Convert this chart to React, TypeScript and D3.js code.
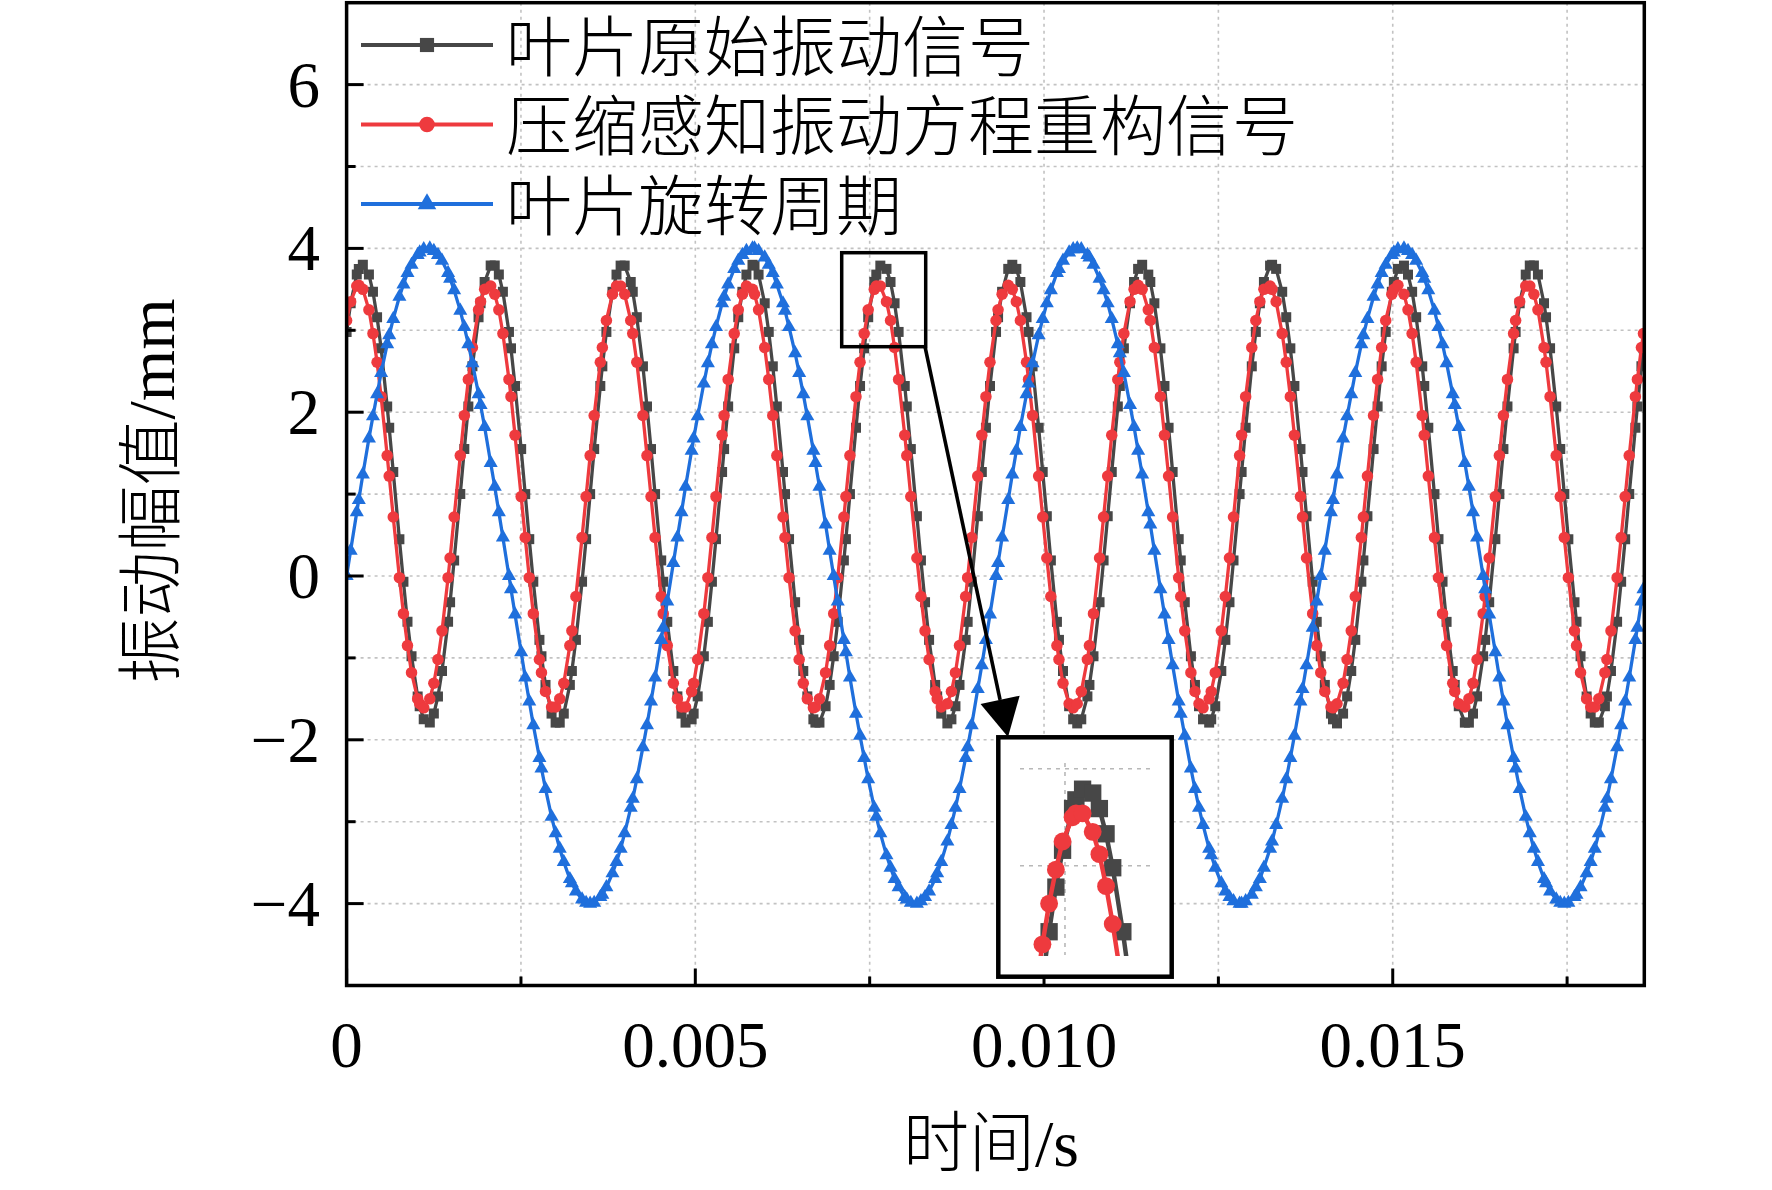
import React from 'react';
import * as d3 from 'd3';

// ---------------- data (time in ms, amplitude in mm) ----------------
const TIME_MS = [
  0, 0.058, 0.146, 0.175, 0.233, 0.320, 0.378,
  0.437, 0.495, 0.582, 0.611, 0.669, 0.757, 0.815,
  0.873, 0.931, 1.019, 1.048, 1.106, 1.193, 1.251,
  1.310, 1.368, 1.455, 1.484, 1.542, 1.630, 1.688,
  1.746, 1.804, 1.892, 1.921, 1.979, 2.066, 2.124,
  2.183, 2.241, 2.328, 2.357, 2.415, 2.503, 2.561,
  2.619, 2.677, 2.765, 2.794, 2.852, 2.939, 2.997,
  3.056, 3.114, 3.201, 3.230, 3.288, 3.376, 3.434,
  3.492, 3.550, 3.638, 3.667, 3.725, 3.812, 3.870,
  3.929, 3.987, 4.074, 4.103, 4.161, 4.249, 4.307,
  4.365, 4.423, 4.511, 4.540, 4.598, 4.685, 4.743,
  4.802, 4.860, 4.947, 4.976, 5.034, 5.122, 5.180,
  5.238, 5.296, 5.384, 5.413, 5.471, 5.558, 5.616,
  5.675, 5.733, 5.820, 5.849, 5.907, 5.995, 6.053,
  6.111, 6.169, 6.257, 6.286, 6.344, 6.431, 6.489,
  6.548, 6.606, 6.693, 6.722, 6.780, 6.868, 6.926,
  6.984, 7.042, 7.130, 7.159, 7.217, 7.304, 7.362,
  7.421, 7.479, 7.566, 7.595, 7.653, 7.741, 7.799,
  7.857, 7.915, 8.003, 8.032, 8.090, 8.177, 8.235,
  8.294, 8.352, 8.439, 8.468, 8.526, 8.614, 8.672,
  8.730, 8.788, 8.876, 8.905, 8.963, 9.050, 9.108,
  9.167, 9.225, 9.312, 9.341, 9.399, 9.487, 9.545,
  9.603, 9.661, 9.749, 9.778, 9.836, 9.923, 9.981,
  10.040, 10.098, 10.185, 10.214, 10.272, 10.360, 10.418,
  10.476, 10.534, 10.622, 10.651, 10.709, 10.796, 10.854,
  10.913, 10.971, 11.058, 11.087, 11.145, 11.233, 11.291,
  11.349, 11.407, 11.495, 11.524, 11.582, 11.669, 11.727,
  11.786, 11.844, 11.931, 11.960, 12.018, 12.106, 12.164,
  12.222, 12.280, 12.368, 12.397, 12.455, 12.542, 12.600,
  12.659, 12.717, 12.804, 12.833, 12.891, 12.979, 13.037,
  13.095, 13.153, 13.241, 13.270, 13.328, 13.415, 13.473,
  13.532, 13.590, 13.677, 13.706, 13.764, 13.852, 13.910,
  13.968, 14.026, 14.114, 14.143, 14.201, 14.288, 14.346,
  14.405, 14.463, 14.550, 14.579, 14.637, 14.725, 14.783,
  14.841, 14.899, 14.987, 15.016, 15.074, 15.161, 15.219,
  15.278, 15.336, 15.423, 15.452, 15.510, 15.598, 15.656,
  15.714, 15.772, 15.860, 15.889, 15.947, 16.034, 16.092,
  16.151, 16.209, 16.296, 16.325, 16.383, 16.471, 16.529,
  16.587, 16.645, 16.733, 16.762, 16.820, 16.907, 16.965,
  17.024, 17.082, 17.169, 17.198, 17.256, 17.344, 17.402,
  17.460, 17.518, 17.606, 17.635, 17.693, 17.780, 17.838,
  17.897, 17.955, 18.042, 18.071, 18.129, 18.217, 18.275,
  18.333, 18.391, 18.479, 18.508, 18.566, 18.595,
];

// 叶片原始振动信号
const RAW_SIGNAL = [
  2.98, 3.33, 3.68, 3.75, 3.80, 3.68, 3.47,
  3.16, 2.78, 2.07, 1.81, 1.27, 0.45, -0.07,
  -0.56, -0.98, -1.47, -1.59, -1.75, -1.79, -1.68,
  -1.47, -1.16, -0.56, -0.32, 0.19, 1.00, 1.55,
  2.07, 2.56, 3.16, 3.33, 3.59, 3.79, 3.79,
  3.68, 3.47, 2.98, 2.78, 2.32, 1.55, 1.00,
  0.45, -0.07, -0.78, -0.98, -1.33, -1.68, -1.79,
  -1.79, -1.68, -1.33, -1.16, -0.78, -0.07, 0.45,
  1.00, 1.55, 2.32, 2.56, 2.98, 3.47, 3.68,
  3.79, 3.79, 3.59, 3.47, 3.16, 2.56, 2.07,
  1.55, 1.00, 0.19, -0.07, -0.56, -1.16, -1.47,
  -1.68, -1.79, -1.75, -1.68, -1.47, -0.98, -0.56,
  -0.07, 0.45, 1.27, 1.55, 2.07, 2.78, 3.16,
  3.47, 3.68, 3.80, 3.79, 3.68, 3.33, 2.98,
  2.56, 2.07, 1.27, 1.00, 0.45, -0.32, -0.78,
  -1.16, -1.47, -1.75, -1.79, -1.79, -1.59, -1.33,
  -0.98, -0.56, 0.19, 0.45, 1.00, 1.81, 2.32,
  2.78, 3.16, 3.59, 3.68, 3.79, 3.75, 3.59,
  3.33, 2.98, 2.32, 2.07, 1.55, 0.73, 0.19,
  -0.32, -0.78, -1.33, -1.47, -1.68, -1.80, -1.75,
  -1.59, -1.33, -0.78, -0.56, -0.07, 0.73, 1.27,
  1.81, 2.32, 2.98, 3.16, 3.47, 3.75, 3.80,
  3.75, 3.59, 3.16, 2.98, 2.56, 1.81, 1.27,
  0.73, 0.19, -0.56, -0.78, -1.16, -1.59, -1.75,
  -1.80, -1.75, -1.47, -1.33, -0.98, -0.32, 0.19,
  0.73, 1.27, 2.07, 2.32, 2.78, 3.33, 3.59,
  3.75, 3.80, 3.68, 3.59, 3.33, 2.78, 2.32,
  1.81, 1.27, 0.45, 0.19, -0.32, -0.98, -1.33,
  -1.59, -1.75, -1.79, -1.75, -1.59, -1.16, -0.78,
  -0.32, 0.19, 1.00, 1.27, 1.81, 2.56, 2.98,
  3.33, 3.59, 3.79, 3.80, 3.75, 3.47, 3.16,
  2.78, 2.32, 1.55, 1.27, 0.73, -0.07, -0.56,
  -0.98, -1.33, -1.68, -1.75, -1.80, -1.68, -1.47,
  -1.16, -0.78, -0.07, 0.19, 0.73, 1.55, 2.07,
  2.56, 2.98, 3.47, 3.59, 3.75, 3.79, 3.68,
  3.47, 3.16, 2.56, 2.32, 1.81, 1.00, 0.45,
  -0.07, -0.56, -1.16, -1.33, -1.59, -1.79, -1.79,
  -1.68, -1.47, -0.98, -0.78, -0.32, 0.45, 1.00,
  1.55, 2.07, 2.78, 2.98, 3.33, 3.68, 3.79,
  3.79, 3.68, 3.33, 3.16, 2.78, 2.07, 1.55,
  1.00, 0.45, -0.32, -0.56, -0.98, -1.47, -1.68,
  -1.79, -1.79, -1.59, -1.47, -1.16, -0.56, -0.07,
  0.45, 1.00, 1.81, 2.07, 2.56, 2.78,
];

// 压缩感知振动方程重构信号
const RECON_SIGNAL = [
  3.12, 3.35, 3.54, 3.55, 3.50, 3.25, 2.96,
  2.61, 2.19, 1.47, 1.22, 0.72, -0.02, -0.46,
  -0.85, -1.18, -1.50, -1.56, -1.61, -1.50, -1.31,
  -1.02, -0.67, -0.02, 0.22, 0.72, 1.47, 1.96,
  2.40, 2.79, 3.25, 3.35, 3.50, 3.54, 3.44,
  3.25, 2.96, 2.40, 2.19, 1.72, 0.97, 0.47,
  -0.02, -0.46, -1.02, -1.18, -1.41, -1.60, -1.60,
  -1.50, -1.31, -0.85, -0.67, -0.25, 0.47, 0.97,
  1.47, 1.96, 2.61, 2.79, 3.12, 3.44, 3.54,
  3.54, 3.44, 3.12, 2.96, 2.61, 1.96, 1.47,
  0.97, 0.47, -0.25, -0.46, -0.85, -1.31, -1.50,
  -1.60, -1.60, -1.41, -1.31, -1.02, -0.46, -0.02,
  0.47, 0.97, 1.72, 1.96, 2.40, 2.96, 3.25,
  3.44, 3.54, 3.50, 3.44, 3.25, 2.79, 2.40,
  1.96, 1.47, 0.72, 0.47, -0.02, -0.67, -1.02,
  -1.31, -1.50, -1.61, -1.60, -1.50, -1.18, -0.85,
  -0.46, -0.02, 0.72, 0.97, 1.47, 2.19, 2.61,
  2.96, 3.25, 3.50, 3.54, 3.54, 3.35, 3.12,
  2.79, 2.40, 1.72, 1.47, 0.97, 0.22, -0.25,
  -0.67, -1.02, -1.41, -1.50, -1.60, -1.56, -1.41,
  -1.18, -0.85, -0.25, -0.02, 0.47, 1.22, 1.72,
  2.19, 2.61, 3.12, 3.25, 3.44, 3.55, 3.50,
  3.35, 3.12, 2.61, 2.40, 1.96, 1.22, 0.72,
  0.22, -0.25, -0.85, -1.02, -1.31, -1.56, -1.61,
  -1.56, -1.41, -1.02, -0.85, -0.46, 0.22, 0.72,
  1.22, 1.72, 2.40, 2.61, 2.96, 3.35, 3.50,
  3.55, 3.50, 3.25, 3.12, 2.79, 2.19, 1.72,
  1.22, 0.72, -0.02, -0.25, -0.67, -1.18, -1.41,
  -1.56, -1.61, -1.50, -1.41, -1.18, -0.67, -0.25,
  0.22, 0.72, 1.47, 1.72, 2.19, 2.79, 3.12,
  3.35, 3.50, 3.54, 3.50, 3.35, 2.96, 2.61,
  2.19, 1.72, 0.97, 0.72, 0.22, -0.46, -0.85,
  -1.18, -1.41, -1.60, -1.61, -1.56, -1.31, -1.02,
  -0.67, -0.25, 0.47, 0.72, 1.22, 1.96, 2.40,
  2.79, 3.12, 3.44, 3.50, 3.55, 3.44, 3.25,
  2.96, 2.61, 1.96, 1.72, 1.22, 0.47, -0.02,
  -0.46, -0.85, -1.31, -1.41, -1.56, -1.60, -1.50,
  -1.31, -1.02, -0.46, -0.25, 0.22, 0.97, 1.47,
  1.96, 2.40, 2.96, 3.12, 3.35, 3.54, 3.54,
  3.44, 3.25, 2.79, 2.61, 2.19, 1.47, 0.97,
  0.47, -0.02, -0.67, -0.85, -1.18, -1.50, -1.60,
  -1.60, -1.50, -1.18, -1.02, -0.67, -0.02, 0.47,
  0.97, 1.47, 2.19, 2.40, 2.79, 2.96,
];

// 叶片旋转周期
const ROTATION_SIGNAL = [
  0.00, 0.31, 0.78, 0.93, 1.24, 1.68, 1.95,
  2.22, 2.48, 2.83, 2.94, 3.14, 3.41, 3.56,
  3.70, 3.80, 3.92, 3.95, 3.99, 4.00, 3.97,
  3.92, 3.85, 3.70, 3.63, 3.49, 3.24, 3.04,
  2.83, 2.60, 2.22, 2.09, 1.82, 1.38, 1.09,
  0.78, 0.47, 0.00, -0.16, -0.47, -0.93, -1.24,
  -1.53, -1.82, -2.22, -2.35, -2.60, -2.94, -3.14,
  -3.33, -3.49, -3.70, -3.75, -3.85, -3.95, -3.99,
  -4.00, -3.99, -3.92, -3.89, -3.80, -3.63, -3.49,
  -3.33, -3.14, -2.83, -2.72, -2.48, -2.09, -1.82,
  -1.53, -1.24, -0.78, -0.63, -0.31, 0.16, 0.47,
  0.78, 1.09, 1.53, 1.68, 1.95, 2.35, 2.60,
  2.83, 3.04, 3.33, 3.41, 3.56, 3.75, 3.85,
  3.92, 3.97, 4.00, 4.00, 3.97, 3.89, 3.80,
  3.70, 3.56, 3.33, 3.24, 3.04, 2.72, 2.48,
  2.22, 1.95, 1.53, 1.38, 1.09, 0.63, 0.31,
  0.00, -0.31, -0.78, -0.93, -1.24, -1.68, -1.95,
  -2.22, -2.48, -2.83, -2.94, -3.14, -3.41, -3.56,
  -3.70, -3.80, -3.92, -3.95, -3.99, -4.00, -3.97,
  -3.92, -3.85, -3.70, -3.63, -3.49, -3.24, -3.04,
  -2.83, -2.60, -2.22, -2.09, -1.82, -1.38, -1.09,
  -0.78, -0.47, 0.00, 0.16, 0.47, 0.93, 1.24,
  1.53, 1.82, 2.22, 2.35, 2.60, 2.94, 3.14,
  3.33, 3.49, 3.70, 3.75, 3.85, 3.95, 3.99,
  4.00, 3.99, 3.92, 3.89, 3.80, 3.63, 3.49,
  3.33, 3.14, 2.83, 2.72, 2.48, 2.09, 1.82,
  1.53, 1.24, 0.78, 0.63, 0.31, -0.16, -0.47,
  -0.78, -1.09, -1.53, -1.68, -1.95, -2.35, -2.60,
  -2.83, -3.04, -3.33, -3.41, -3.56, -3.75, -3.85,
  -3.92, -3.97, -4.00, -4.00, -3.97, -3.89, -3.80,
  -3.70, -3.56, -3.33, -3.24, -3.04, -2.72, -2.48,
  -2.22, -1.95, -1.53, -1.38, -1.09, -0.63, -0.31,
  0.00, 0.31, 0.78, 0.93, 1.24, 1.68, 1.95,
  2.22, 2.48, 2.83, 2.94, 3.14, 3.41, 3.56,
  3.70, 3.80, 3.92, 3.95, 3.99, 4.00, 3.97,
  3.92, 3.85, 3.70, 3.63, 3.49, 3.24, 3.04,
  2.83, 2.60, 2.22, 2.09, 1.82, 1.38, 1.09,
  0.78, 0.47, 0.00, -0.16, -0.47, -0.93, -1.24,
  -1.53, -1.82, -2.22, -2.35, -2.60, -2.94, -3.14,
  -3.33, -3.49, -3.70, -3.75, -3.85, -3.95, -3.99,
  -4.00, -3.99, -3.92, -3.89, -3.80, -3.63, -3.49,
  -3.33, -3.14, -2.83, -2.72, -2.48, -2.09, -1.82,
  -1.53, -1.24, -0.78, -0.63, -0.31, -0.16,
];

const LEGEND_LABELS = ['叶片原始振动信号', '压缩感知振动方程重构信号', '叶片旋转周期'];
const X_MAJOR_TICKS = [0, 5, 10, 15];
const X_TICK_LABELS = ['0', '0.005', '0.010', '0.015'];
const X_MINOR_TICKS = [2.5, 7.5, 12.5, 17.5];
const Y_MAJOR_TICKS = [-4, -2, 0, 2, 4, 6];
const Y_TICK_LABELS = ['\u22124', '\u22122', '0', '2', '4', '6'];
const Y_MINOR_TICKS = [-3, -1, 1, 3, 5];
const Y_GRID = [-4, -3, -2, -1, 0, 1, 2, 3, 4, 5, 6];
const X_GRID = [2.5, 5, 7.5, 10, 12.5, 15, 17.5];
const X_DOMAIN = [0, 18.607];
const Y_DOMAIN = [-5, 7];
const X_TITLE = '时间/s';
const Y_TITLE = '振动幅值/mm';
// zoomed window of the inset (ms, mm)
const INSET_X_DOMAIN = [7.109, 8.239];
const INSET_Y_DOMAIN = [2.08, 4.06];
const INSET_X_GRID = [7.5];
const INSET_Y_GRID = [3, 4];

// ---------------- layout / style ----------------
const W = 1772;
const H = 1190;
const PL = 346.6, PR = 1644.3, PT = 2.7, PB = 985.5;
const C_RAW = '#474747';
const C_REC = '#ee3a3e';
const C_ROT = '#1f6fdc';
const GRID_C = '#c2c2c2';
const SERIF = "'Liberation Serif','Times New Roman','Noto Sans CJK SC',serif";
const CJK = "'Liberation Serif','Noto Sans CJK SC',sans-serif";

type Marker = 'square' | 'circle' | 'triangle';

function symbolPath(m: Marker, size: number) {
  const t = m === 'square' ? d3.symbolSquare : m === 'circle' ? d3.symbolCircle : d3.symbolTriangle;
  return d3.symbol().type(t).size(size)() as string;
}

export default function App() {
  const x = d3.scaleLinear().domain(X_DOMAIN).range([PL, PR]);
  const y = d3.scaleLinear().domain(Y_DOMAIN).range([PB, PT]);

  const series = [
    { key: 'raw', values: RAW_SIGNAL, color: C_RAW, marker: 'square' as Marker, size: 100 },
    { key: 'rec', values: RECON_SIGNAL, color: C_REC, marker: 'circle' as Marker, size: 104 },
    { key: 'rot', values: ROTATION_SIGNAL, color: C_ROT, marker: 'triangle' as Marker, size: 86 },
  ];
  const pts = (vals: number[]) =>
    TIME_MS.map((t, i) => [t, vals[i]] as [number, number]).filter((d) => d[1] !== undefined);

  const line = d3.line<[number, number]>().x((d) => x(d[0])).y((d) => y(d[1]));

  // inset scales
  const ix = d3.scaleLinear().domain(INSET_X_DOMAIN).range([1020, 1150]);
  const iy = d3.scaleLinear().domain(INSET_Y_DOMAIN).range([955, 763]);
  const iline = d3.line<[number, number]>().x((d) => ix(d[0])).y((d) => iy(d[1]));

  // arrow geometry (annotation)
  const aStart = [925, 346.7];
  const aTip = [1008, 737];
  const adx = aTip[0] - aStart[0], ady = aTip[1] - aStart[1];
  const alen = Math.hypot(adx, ady);
  const ux = adx / alen, uy = ady / alen;
  const headL = 38, headW = 20;
  const bx = aTip[0] - ux * headL, by = aTip[1] - uy * headL;
  const head = `M${aTip[0]},${aTip[1]} L${bx - uy * headW},${by + ux * headW} L${bx + uy * headW},${by - ux * headW} Z`;

  const legendRows = [45, 124.5, 204];

  return (
    <svg
      width={W}
      height={H}
      viewBox={`0 0 ${W} ${H}`}
      style={{ position: 'absolute', left: 0, top: 0, background: '#fff' }}
    >
      <defs>
        <clipPath id="plotClip">
          <rect x={PL} y={PT} width={PR - PL} height={PB - PT} />
        </clipPath>
        <clipPath id="insetClip">
          <rect x={1016} y={759} width={138} height={197} />
        </clipPath>
      </defs>
      <rect x={0} y={0} width={W} height={H} fill="#fff" />

      {/* grid */}
      <g stroke={GRID_C} strokeWidth={1.6} strokeDasharray="3 4">
        {Y_GRID.map((v) => (
          <line key={'gy' + v} x1={PL} x2={PR} y1={y(v)} y2={y(v)} />
        ))}
        {X_GRID.map((v) => (
          <line key={'gx' + v} x1={x(v)} x2={x(v)} y1={PT} y2={PB} />
        ))}
      </g>

      {/* series */}
      <g clipPath="url(#plotClip)">
        {series.map((s) => {
          const p = pts(s.values);
          const sym = symbolPath(s.marker, s.size);
          return (
            <g key={s.key}>
              <path d={line(p) || ''} fill="none" stroke={s.color} strokeWidth={3.3} strokeLinejoin="round" />
              {p.map((d, i) => (
                <path key={i} d={sym} transform={`translate(${x(d[0])},${y(d[1])})`} fill={s.color} />
              ))}
            </g>
          );
        })}
      </g>

      {/* frame */}
      <rect x={PL} y={PT} width={PR - PL} height={PB - PT} fill="none" stroke="#000" strokeWidth={3.5} />

      {/* ticks */}
      <g stroke="#000" strokeWidth={3}>
        {Y_MAJOR_TICKS.map((v) => (
          <line key={'ym' + v} x1={PL} x2={PL + 17} y1={y(v)} y2={y(v)} />
        ))}
        {Y_MINOR_TICKS.map((v) => (
          <line key={'yn' + v} x1={PL} x2={PL + 9} y1={y(v)} y2={y(v)} />
        ))}
        {X_MAJOR_TICKS.map((v) => (
          <line key={'xm' + v} x1={x(v)} x2={x(v)} y1={PB} y2={PB - 17} />
        ))}
        {X_MINOR_TICKS.map((v) => (
          <line key={'xn' + v} x1={x(v)} x2={x(v)} y1={PB} y2={PB - 9} />
        ))}
      </g>

      {/* tick labels */}
      <g fontFamily={SERIF} fontSize={65} fill="#000">
        {Y_MAJOR_TICKS.map((v, i) => (
          <text key={'yl' + v} x={320} y={y(v)} textAnchor="end" dominantBaseline="central">
            {Y_TICK_LABELS[i]}
          </text>
        ))}
        {X_MAJOR_TICKS.map((v, i) => (
          <text key={'xl' + v} x={x(v)} y={1067} textAnchor="middle">
            {X_TICK_LABELS[i]}
          </text>
        ))}
      </g>

      {/* axis titles */}
      <text x={991} y={1166} textAnchor="middle" fontFamily={CJK} fontSize={66} fontWeight={300} fill="#000">
        {X_TITLE}
      </text>
      <text
        transform="translate(174,491) rotate(-90)"
        textAnchor="middle"
        fontFamily={CJK}
        fontSize={66}
        fontWeight={300}
        fill="#000"
      >
        {Y_TITLE}
      </text>

      {/* highlight box and arrow */}
      <rect x={841.7} y={252.7} width={84} height={94} fill="none" stroke="#000" strokeWidth={3.5} />
      <line x1={aStart[0]} y1={aStart[1]} x2={bx} y2={by} stroke="#000" strokeWidth={3.6} />
      <path d={head} fill="#000" />

      {/* inset */}
      <rect x={998.3} y={737.3} width={173.4} height={239.4} fill="#fff" stroke="#000" strokeWidth={4.5} />
      <g clipPath="url(#insetClip)">
        <g stroke="#b8b8b8" strokeWidth={1.6} strokeDasharray="4 5">
          {INSET_Y_GRID.map((v) => (
            <line key={'iy' + v} x1={1020} x2={1150} y1={iy(v)} y2={iy(v)} />
          ))}
          {INSET_X_GRID.map((v) => (
            <line key={'ix' + v} x1={ix(v)} x2={ix(v)} y1={763} y2={955} />
          ))}
        </g>
        {series.slice(0, 2).map((s) => {
          const p = pts(s.values).filter(
            (d) => d[0] > INSET_X_DOMAIN[0] - 0.3 && d[0] < INSET_X_DOMAIN[1] + 0.3
          );
          const sym = symbolPath(s.marker, s.marker === 'square' ? 300 : 250);
          const inside = p.filter(
            (d) =>
              d[0] >= INSET_X_DOMAIN[0] && d[0] <= INSET_X_DOMAIN[1] &&
              d[1] >= INSET_Y_DOMAIN[0] && d[1] <= INSET_Y_DOMAIN[1]
          );
          return (
            <g key={'in' + s.key}>
              <path d={iline(p) || ''} fill="none" stroke={s.color} strokeWidth={4.5} strokeLinejoin="round" />
              {inside.map((d, i) => (
                <path key={i} d={sym} transform={`translate(${ix(d[0])},${iy(d[1])})`} fill={s.color} />
              ))}
            </g>
          );
        })}
      </g>

      {/* legend */}
      {series.map((s, i) => (
        <g key={'lg' + s.key}>
          <line x1={361} x2={493} y1={legendRows[i]} y2={legendRows[i]} stroke={s.color} strokeWidth={4} />
          <path
            d={symbolPath(s.marker, s.marker === 'square' ? 200 : s.marker === 'circle' ? 190 : 150)}
            transform={`translate(427,${legendRows[i]})`}
            fill={s.color}
          />
          <text
            x={506}
            y={legendRows[i] + 3}
            dominantBaseline="central"
            fontFamily={CJK}
            fontSize={66}
            fontWeight={300}
            fill="#000"
          >
            {LEGEND_LABELS[i]}
          </text>
        </g>
      ))}
    </svg>
  );
}
